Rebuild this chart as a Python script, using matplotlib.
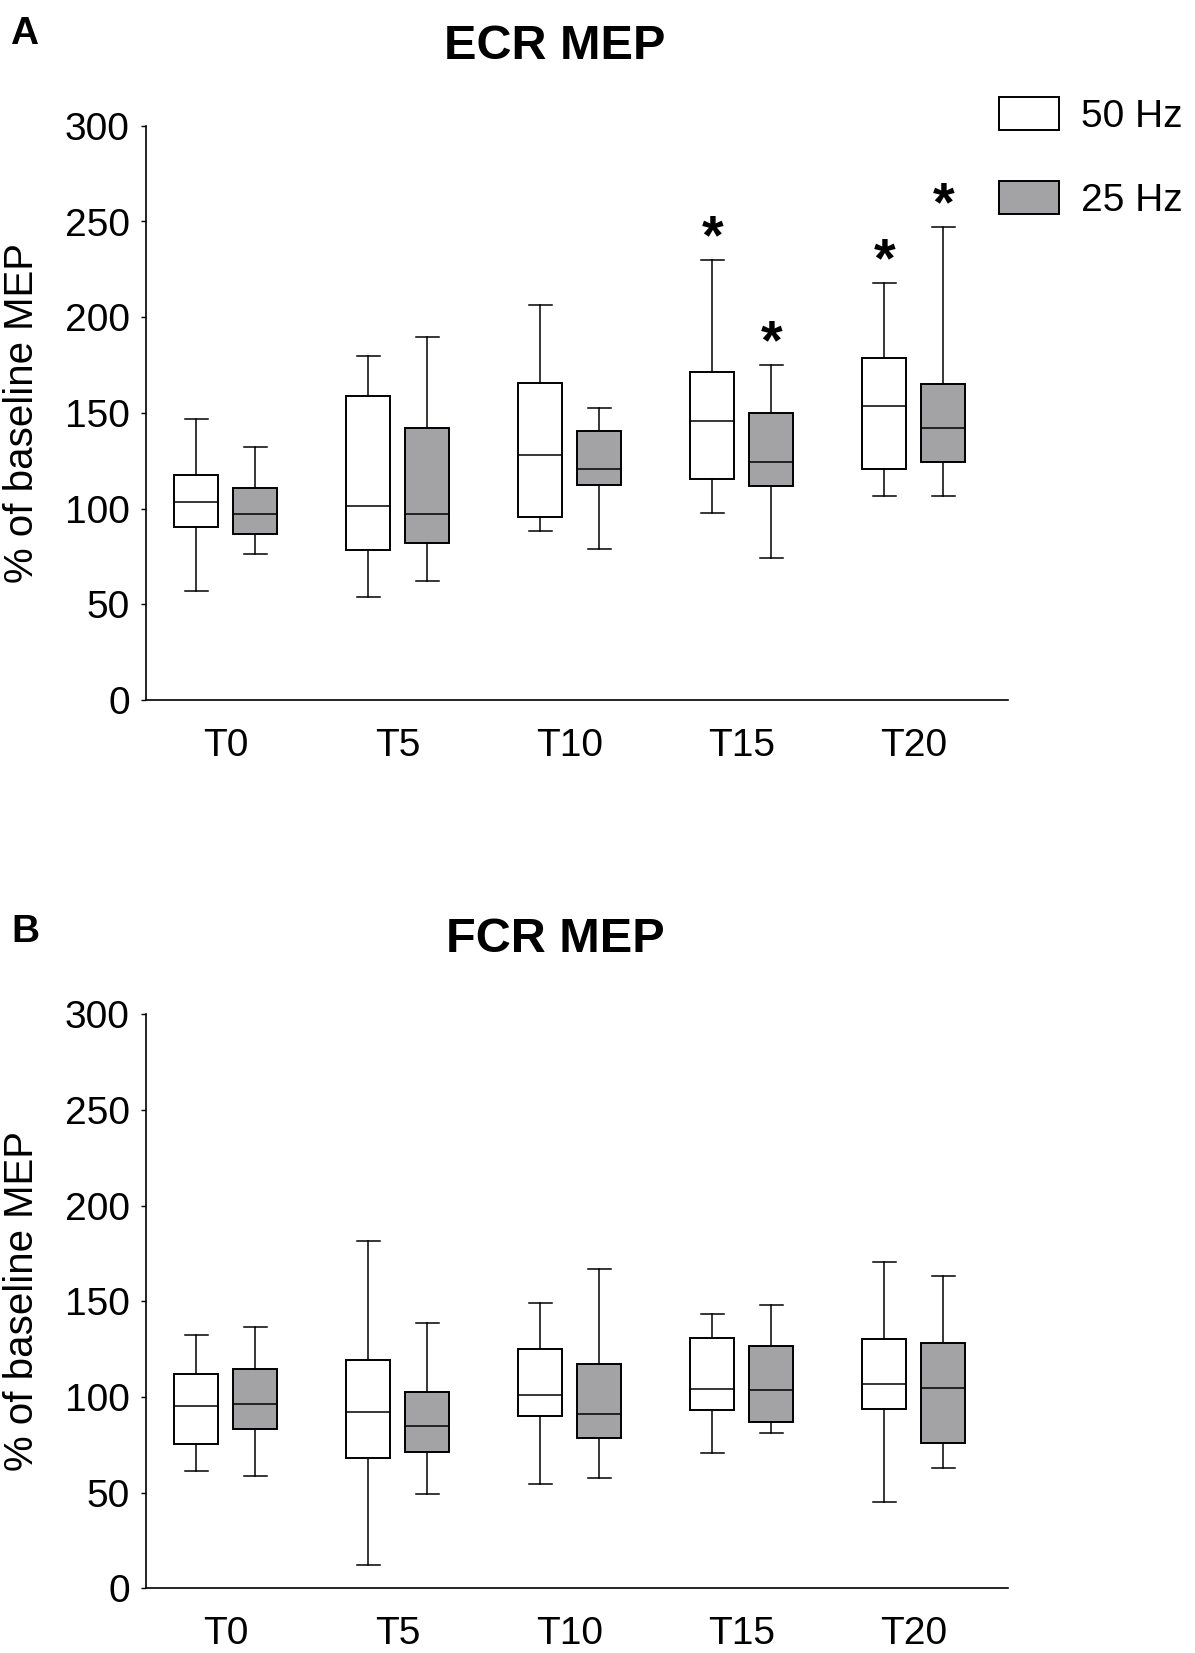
import matplotlib
matplotlib.use("Agg")
import matplotlib.pyplot as plt
from matplotlib.patches import Patch

plt.rcParams['font.family'] = ['Liberation Sans', 'DejaVu Sans']

times = ['T0', 'T5', 'T10', 'T15', 'T20']
groups = ['50 Hz', '25 Hz']

# ECR MEP, % of baseline (whisker low, Q1, median, Q3, whisker high)
ecr_50_lo = [56.8, 53.7, 88.1, 97.5, 106.4]
ecr_50_q1 = [90.2, 78.4, 95.4, 115.3, 120.5]
ecr_50_med = [103.3, 101.4, 127.8, 145.6, 153.4]
ecr_50_q3 = [117.4, 158.7, 165.5, 171.2, 178.5]
ecr_50_hi = [146.6, 179.5, 206.2, 229.7, 217.7]

ecr_25_lo = [76.1, 62.2, 78.7, 74.0, 106.4]
ecr_25_q1 = [86.7, 82.0, 112.2, 111.6, 124.2]
ecr_25_med = [97.0, 97.0, 120.5, 124.2, 141.9]
ecr_25_q3 = [110.8, 142.0, 140.4, 149.9, 164.9]
ecr_25_hi = [132.0, 189.5, 152.4, 174.9, 247.0]

ecr_sig_50 = [False, False, False, True, True]
ecr_sig_25 = [False, False, False, True, True]

# FCR MEP
fcr_50_lo = [61.1, 12.0, 54.3, 70.5, 44.9]
fcr_50_q1 = [75.2, 67.9, 89.9, 93.0, 93.5]
fcr_50_med = [95.1, 92.0, 100.8, 104.0, 106.6]
fcr_50_q3 = [111.8, 119.1, 124.9, 130.6, 130.1]
fcr_50_hi = [132.2, 181.3, 148.9, 143.2, 170.3]

fcr_25_lo = [58.5, 49.1, 57.5, 81.0, 62.7]
fcr_25_q1 = [83.1, 71.1, 78.4, 87.1, 75.8]
fcr_25_med = [96.1, 84.6, 90.9, 103.4, 104.5]
fcr_25_q3 = [114.7, 102.4, 117.0, 126.4, 128.0]
fcr_25_hi = [136.4, 138.4, 166.7, 147.9, 163.0]

fcr_sig_50 = [False] * 5
fcr_sig_25 = [False] * 5

GRAY = '#a3a3a6'
OFFSET = 0.1715
BOXW = 0.256
CAPW = 0.132


def make_stats(lo, q1, med, q3, hi):
    return [dict(whislo=a, q1=b, med=c, q3=d, whishi=e, fliers=[])
            for a, b, c, d, e in zip(lo, q1, med, q3, hi)]


def draw_panel(ax, s50, s25, sig50, sig25):
    x = list(range(len(times)))
    for stats, shift, face, sig in [(s50, -OFFSET, 'white', sig50),
                                    (s25, OFFSET, GRAY, sig25)]:
        pos = [i + shift for i in x]
        ax.bxp(stats, positions=pos, widths=BOXW, capwidths=CAPW,
               patch_artist=True, showfliers=False, manage_ticks=False,
               boxprops=dict(facecolor=face, edgecolor='black', linewidth=1.4),
               whiskerprops=dict(color='black', linewidth=1.1),
               capprops=dict(color='black', linewidth=1.1),
               medianprops=dict(color='black', linewidth=1.1))
        for p, st, s in zip(pos, stats, sig):
            if s:
                ax.text(p, st['whishi'] + 3.5, '*', ha='center', va='baseline',
                        fontsize=40, fontweight='bold')

    ax.set_xlim(-0.464, 4.546)
    ax.set_ylim(0, 300)
    ax.set_yticks([0, 50, 100, 150, 200, 250, 300])
    ax.set_xticks(x)
    ax.set_xticklabels(times)
    ax.spines['top'].set_visible(False)
    ax.spines['right'].set_visible(False)
    ax.spines['left'].set_linewidth(1.2)
    ax.spines['bottom'].set_linewidth(1.2)
    ax.tick_params(axis='x', length=0, pad=20, labelsize=28)
    ax.tick_params(axis='y', length=3.6, width=1, pad=8, labelsize=28)


fig = plt.figure(figsize=(11.95, 16.53), dpi=100)
left, width = 146 / 1195, (1007.7 - 146) / 1195
ax_a = fig.add_axes([left, 1 - 700 / 1653, width, 574.2 / 1653])
ax_b = fig.add_axes([left, 1 - 1588.3 / 1653, width, 574.2 / 1653])

draw_panel(ax_a,
           make_stats(ecr_50_lo, ecr_50_q1, ecr_50_med, ecr_50_q3, ecr_50_hi),
           make_stats(ecr_25_lo, ecr_25_q1, ecr_25_med, ecr_25_q3, ecr_25_hi),
           ecr_sig_50, ecr_sig_25)
draw_panel(ax_b,
           make_stats(fcr_50_lo, fcr_50_q1, fcr_50_med, fcr_50_q3, fcr_50_hi),
           make_stats(fcr_25_lo, fcr_25_q1, fcr_25_med, fcr_25_q3, fcr_25_hi),
           fcr_sig_50, fcr_sig_25)

# titles, panel letters, y labels
fig.text(0.4644, 1 - 59 / 1653, 'ECR MEP', ha='center', va='baseline',
         fontsize=35, fontweight='bold')
fig.text(0.4644, 1 - 952 / 1653, 'FCR MEP', ha='center', va='baseline',
         fontsize=35, fontweight='bold')
fig.text(10 / 1195, 1 - 44 / 1653, 'A', ha='left', va='baseline',
         fontsize=28, fontweight='bold')
fig.text(11 / 1195, 1 - 942 / 1653, 'B', ha='left', va='baseline',
         fontsize=28, fontweight='bold')
for yc in [1 - 413 / 1653, 1 - 1301 / 1653]:
    fig.text(22 / 1195, yc, '% of baseline MEP', rotation=90,
             ha='center', va='center', fontsize=29)

handles = [Patch(facecolor='white', edgecolor='black', linewidth=1.4),
           Patch(facecolor=GRAY, edgecolor='black', linewidth=1.4)]
ax_a.legend(handles, groups, loc='upper left', bbox_to_anchor=(0.990, 1.051),
            frameon=False, fontsize=28, handlelength=1.54, handleheight=0.94,
            handletextpad=0.56, labelspacing=1.2, borderpad=0, borderaxespad=0)

fig.savefig('out.png', dpi=100)
